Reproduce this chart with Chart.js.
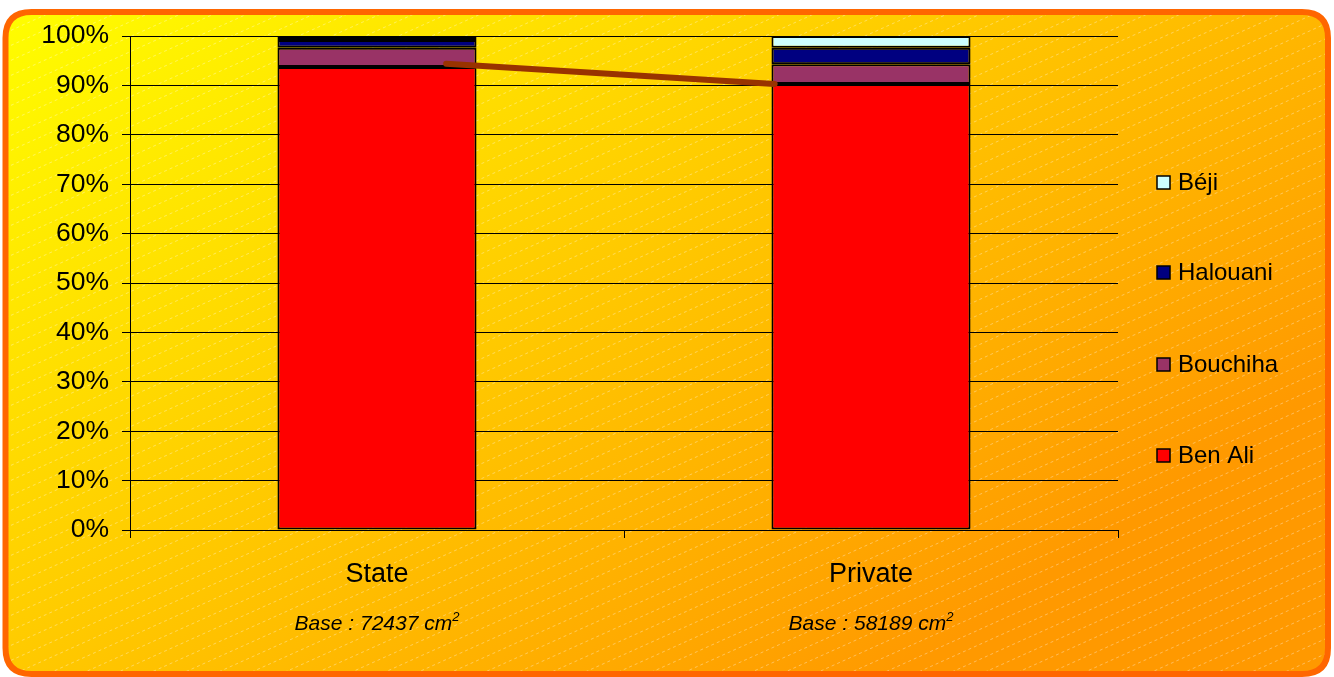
<!DOCTYPE html>
<html><head><meta charset="utf-8">
<script src="https://cdn.jsdelivr.net/npm/chart.js@4/dist/chart.umd.min.js"></script>
<style>html,body{margin:0;padding:0;background:#fff;}#wrap{width:1334px;height:677px;position:relative;}</style>
</head><body><div id="wrap"><canvas id="c" width="1334" height="677"></canvas></div>
<script>
const categories = ['State', 'Private'];
const baseValues = ['72437', '58189'];
const seriesNames = ['Ben Ali', 'Bouchiha', 'Halouani', 'Béji'];
const benAli = [93.7, 90.3];
const bouchiha = [3.9, 4.0];
const halouani = [1.6, 3.3];
const beji = [0.8, 2.4];
const trendValues = [94.4, 90.3];
const yTicks = [0,10,20,30,40,50,60,70,80,90,100];
const colors = ['#FF0000', '#993366', '#000080', '#CCFFFF'];

const FONT = '"Liberation Sans", Arial, sans-serif';

const bgPlugin = {
  id: 'bg',
  beforeDraw(chart) {
    const ctx = chart.ctx;
    const W = chart.width, H = chart.height;
    ctx.save();
    ctx.fillStyle = '#ffffff';
    ctx.fillRect(0,0,W,H);
    const x0 = 5.5, y0 = 12, x1 = 1328, y1 = 674, r = 26;
    const path = () => {
      ctx.beginPath();
      ctx.moveTo(x0 + r, y0);
      ctx.lineTo(x1 - r, y0);
      ctx.quadraticCurveTo(x1, y0, x1, y0 + r);
      ctx.lineTo(x1, y1 - r);
      ctx.quadraticCurveTo(x1, y1, x1 - r, y1);
      ctx.lineTo(x0 + r, y1);
      ctx.quadraticCurveTo(x0, y1, x0, y1 - r);
      ctx.lineTo(x0, y0 + r);
      ctx.quadraticCurveTo(x0, y0, x0 + r, y0);
      ctx.closePath();
    };
    const g = ctx.createLinearGradient(0, 0, 1334 * 0.45, 677 * 1.3);
    g.addColorStop(0, '#FFFF00');
    g.addColorStop(1, '#FF9900');
    path();
    ctx.fillStyle = g;
    ctx.fill();
    ctx.save();
    path();
    ctx.clip();
    ctx.strokeStyle = 'rgba(255,255,255,0.35)';
    ctx.lineWidth = 1;
    ctx.setLineDash([3, 3]);
    const slope = 0.45;
    for (let b = -700; b < 1400; b += 15) {
      ctx.beginPath();
      ctx.moveTo(0, b + 1334 * slope);
      ctx.lineTo(1334, b);
      ctx.stroke();
    }
    ctx.restore();
    path();
    ctx.strokeStyle = '#FF6600';
    ctx.lineWidth = 6;
    ctx.stroke();
    ctx.restore();
  }
};

const extrasPlugin = {
  id: 'extras',
  afterDatasetsDraw(chart) {
    const ctx = chart.ctx;
    const xs = chart.scales.x, ys = chart.scales.y;
    const step = xs.getPixelForValue(1) - xs.getPixelForValue(0);
    ctx.save();
    ctx.strokeStyle = '#993300';
    ctx.lineWidth = 6;
    ctx.lineCap = 'round';
    ctx.beginPath();
    ctx.moveTo(xs.getPixelForValue(0) + step * 0.14, ys.getPixelForValue(trendValues[0]));
    ctx.lineTo(xs.getPixelForValue(1) - step * 0.195, ys.getPixelForValue(trendValues[1]));
    ctx.stroke();
    ctx.restore();
  },
  afterDraw(chart) {
    const ctx = chart.ctx;
    const xs = chart.scales.x;
    ctx.save();
    ctx.fillStyle = '#000';
    ctx.textBaseline = 'alphabetic';
    categories.forEach((c, i) => {
      const cx = xs.getPixelForValue(i);
      const main = 'Base : ' + baseValues[i] + ' cm';
      ctx.font = 'italic 21px ' + FONT;
      const w1 = ctx.measureText(main).width;
      ctx.font = 'italic 13px ' + FONT;
      const w2 = ctx.measureText('2').width;
      const start = cx - (w1 + w2) / 2;
      ctx.font = 'italic 21px ' + FONT;
      ctx.textAlign = 'left';
      ctx.fillText(main, start, 630);
      ctx.font = 'italic 13px ' + FONT;
      ctx.fillText('2', start + w1, 621);
    });
    const ys = [182, 272, 364, 455];
    for (let k = 0; k < 4; k++) {
      const di = 3 - k;
      const ds = chart.data.datasets[di];
      const y = ys[k];
      ctx.fillStyle = ds.backgroundColor;
      ctx.fillRect(1157, y - 6, 13, 13);
      ctx.strokeStyle = '#000';
      ctx.lineWidth = 1.5;
      ctx.strokeRect(1157, y - 6, 13, 13);
      ctx.fillStyle = '#000';
      ctx.font = '24px ' + FONT;
      ctx.textAlign = 'left';
      ctx.textBaseline = 'middle';
      ctx.fillText(ds.label, 1178, y + 1);
    }
    ctx.restore();
  }
};

const seriesData = [benAli, bouchiha, halouani, beji];
new Chart(document.getElementById('c'), {
  type: 'bar',
  data: {
    labels: categories,
    datasets: seriesNames.map((n, i) => ({
      label: n,
      data: seriesData[i],
      backgroundColor: colors[i],
      borderColor: '#000',
      borderWidth: 2,
      borderSkipped: false,
      barPercentage: 0.403,
      categoryPercentage: 1
    }))
  },
  options: {
    responsive: false,
    animation: false,
    devicePixelRatio: 1,
    layout: { padding: { left: 10, right: 216, top: 36, bottom: 10 } },
    plugins: { legend: { display: false }, tooltip: { enabled: false } },
    scales: {
      x: {
        stacked: true,
        afterFit(s) { s.height = 677 - 530 - 10; },
        grid: { display: true, drawOnChartArea: false, color: '#000', lineWidth: 1, tickLength: 8, offset: true },
        border: { color: '#000', width: 1 },
        ticks: { color: '#000', font: { family: FONT, size: 27 }, padding: 20 }
      },
      y: {
        stacked: true,
        min: 0, max: 100,
        afterFit(s) { s.width = 130 - 10; },
        afterBuildTicks(s) { s.ticks = yTicks.map(v => ({ value: v })); },
        grid: { color: '#000', lineWidth: 1, tickLength: 8 },
        border: { color: '#000', width: 1 },
        ticks: { color: '#000', font: { family: FONT, size: 26.5 }, padding: 13, callback: v => v + '%' }
      }
    }
  },
  plugins: [bgPlugin, extrasPlugin]
});
</script></body></html>
